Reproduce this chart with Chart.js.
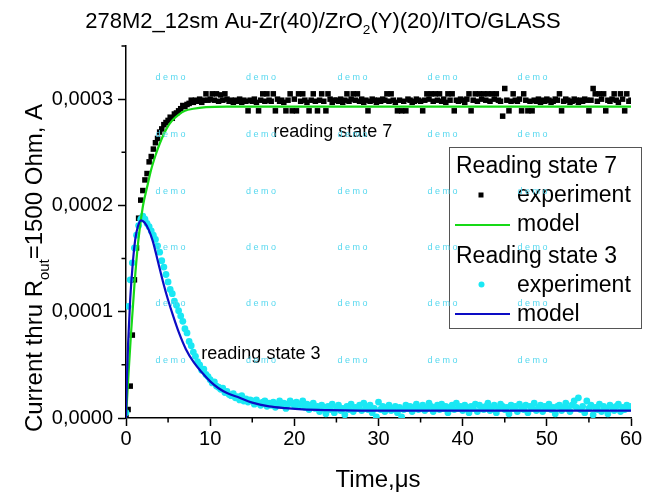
<!DOCTYPE html>
<html>
<head>
<meta charset="utf-8">
<script src="https://cdn.jsdelivr.net/npm/chart.js@4/dist/chart.umd.min.js"></script>
<style>
  html, body { margin: 0; padding: 0; background: #fff; }
  #wrap { width: 645px; height: 492px; }
</style>
</head>
<body>
<div id="wrap"><canvas id="chart" width="645" height="492"></canvas></div>
<script>
// Sampling times of the measured transients, microseconds
const timeUs = [
  0,0.25,0.5,0.75,1,1.25,1.5,1.75,2,2.25,2.5,2.75,3,3.25,3.5,3.75,4,4.25,4.5,4.75,
  5,5.25,5.5,5.75,6,6.25,6.5,6.75,7,7.25,7.5,7.75,8,8.25,8.5,8.75,9,9.25,9.5,9.75,
  10,10.25,10.5,10.75,11,11.25,11.5,11.75,12,12.25,12.5,12.75,13,13.25,13.5,13.75,14,14.25,14.5,14.75,
  15,15.25,15.5,15.75,16,16.25,16.5,16.75,17,17.25,17.5,17.75,18,18.25,18.5,18.75,19,19.25,19.5,19.75,
  20,20.25,20.5,20.75,21,21.25,21.5,21.75,22,22.25,22.5,22.75,23,23.25,23.5,23.75,24,24.25,24.5,24.75,
  25,25.25,25.5,25.75,26,26.25,26.5,26.75,27,27.25,27.5,27.75,28,28.25,28.5,28.75,29,29.25,29.5,29.75,
  30,30.25,30.5,30.75,31,31.25,31.5,31.75,32,32.25,32.5,32.75,33,33.25,33.5,33.75,34,34.25,34.5,34.75,
  35,35.25,35.5,35.75,36,36.25,36.5,36.75,37,37.25,37.5,37.75,38,38.25,38.5,38.75,39,39.25,39.5,39.75,
  40,40.25,40.5,40.75,41,41.25,41.5,41.75,42,42.25,42.5,42.75,43,43.25,43.5,43.75,44,44.25,44.5,44.75,
  45,45.25,45.5,45.75,46,46.25,46.5,46.75,47,47.25,47.5,47.75,48,48.25,48.5,48.75,49,49.25,49.5,49.75,
  50,50.25,50.5,50.75,51,51.25,51.5,51.75,52,52.25,52.5,52.75,53,53.25,53.5,53.75,54,54.25,54.5,54.75,
  55,55.25,55.5,55.75,56,56.25,56.5,56.75,57,57.25,57.5,57.75,58,58.25,58.5,58.75,59,59.25,59.5,59.75,60
];

// Reading state 7, measured current, microamperes
const state7ExperimentUA = [
  2,8,30,78,130,160,188,205,214,224,230,241,246,253,259,263,269,272,276,278,
  280,283,282,286,287,289,291,294,293,295,296,299,297,299,298,300,297,299,305,299,
  300,305,299,305,298,304,299,305,300,298,299,297,299,298,300,297,299,298,289,299,
  298,300,297,289,299,305,298,305,299,298,305,289,300,298,299,297,289,299,305,289,
  300,289,305,298,305,299,297,289,299,305,298,289,299,305,298,289,305,300,297,299,
  299,298,300,297,299,305,298,300,305,299,305,298,300,297,299,289,298,300,299,297,
  299,298,300,299,305,298,305,299,297,289,299,289,298,289,300,299,297,298,300,299,
  298,289,299,305,300,305,298,305,299,305,298,300,297,305,299,305,289,299,298,300,
  299,297,300,305,289,299,305,298,305,300,305,299,305,298,305,300,305,299,298,284,
  310,299,289,298,305,299,298,300,289,305,299,289,298,289,299,298,300,297,299,298,
  300,299,297,298,300,299,305,289,298,300,299,297,298,300,299,297,299,298,300,299,
  289,299,310,305,298,305,300,305,289,299,298,300,305,299,297,305,300,289,305,298,299
];

// Reading state 3, measured current, microamperes
const state3ExperimentUA = [
  5,105,130,146,160,172,181,187,190,187,183,180,176,172,168,162,156,148,142,135,
  128,121,117,110,106,101,96,91,84,80,72,68,62,58,53,50,45,46,41,39,
  36,33,34,30,29,27,28,24,25,22,21,23,19,20,17,21,16,18,15,17,
  16,13,17,14,12,15,16,11,14,12,15,10,13,16,12,14,9,13,16,14,
  12,15,11,13,16,10,13,8,12,14,9,11,6,12,10,4,11,8,13,5,
  10,12,7,9,3,11,8,13,6,10,9,12,7,14,10,8,12,5,9,1,
  15,8,11,6,10,12,7,9,11,5,10,1,8,12,9,11,6,10,13,8,
  10,12,7,9,14,11,6,10,12,8,13,9,11,5,10,12,8,14,9,11,
  7,12,10,5,11,9,13,6,12,10,8,11,14,7,10,12,5,9,13,11,
  8,10,4,12,9,11,6,13,10,8,12,5,11,9,14,7,10,12,6,11,
  9,13,8,10,4,11,12,7,10,14,9,6,12,16,10,19,8,11,5,16,
  9,12,3,10,8,13,6,11,9,4,12,10,7,11,13,6,10,8,12,9,11
];

// Model curves, microamperes
const state7ModelTimeUs = [0,0.3,0.6,1,1.45,2,2.5,3,3.5,4,4.8,5.5,6.2,7,8,9.5,12,20,30,40,50,60];
const state7ModelUA     = [0,42,80,125,166,199,217,234,247,258,272,280,285,289,291,292.5,293,293,293,293,293,293];

const state3ModelTimeUs = [0,0.1,0.25,0.5,0.8,1.1,1.4,1.8,2.2,2.7,3.2,3.8,4.4,5,5.6,6.3,7.1,8,9,10,11,12,13.5,15,17,19,21,24,28,35,45,60];
const state3ModelUA     = [0,35,70,112,145,168,180,186,184,177,166,147,128,111,96,80,65,53,43,34.5,28,23.5,19,14.5,11,9.3,8.1,7.4,7,6.9,6.9,6.9];

// Axis tick labels
const yTickLabels = ['0,0000', '0,0001', '0,0002', '0,0003'];
const xTickLabels = ['0', '10', '20', '30', '40', '50', '60'];

// In-plot notes: text, time (us), current (uA) at the text baseline start
const noteTexts = ['reading state 7', 'reading state 3'];
const noteTimeUs = [17.5, 8.95];
const noteCurrentUA = [264, 55.5];

const FONT = '"Liberation Sans", Arial, Helvetica, sans-serif';
const COLORS = {
  s7exp: '#000000',
  s7model: '#16d916',
  s3exp: '#1ae8f4',
  s3model: '#0c0cc4',
  mark: '#56d8ef'
};

const toAmps = uA => uA * 1e-6;
const toPoints = (xs, ys) => xs.map((x, i) => ({ x: x, y: toAmps(ys[i]) }));
const isMajorY = v => Math.abs(v / 1e-4 - Math.round(v / 1e-4)) < 1e-6;
const isMajorX = v => Math.abs(v / 10 - Math.round(v / 10)) < 1e-9;

// Text runs with optional subscripts, drawn from x (left) on baseline y
function richWidth(ctx, runs, size) {
  let w = 0;
  for (const r of runs) {
    ctx.font = `${r.sub ? size * 0.62 : size}px ${FONT}`;
    w += ctx.measureText(r.t).width;
  }
  return w;
}
function drawRich(ctx, runs, x, y, size) {
  let cx = x;
  ctx.textAlign = 'left';
  ctx.textBaseline = 'alphabetic';
  for (const r of runs) {
    const s = r.sub ? size * 0.62 : size;
    ctx.font = `${s}px ${FONT}`;
    ctx.fillText(r.t, cx, r.sub ? y + size * 0.28 : y);
    cx += ctx.measureText(r.t).width;
  }
}

const decor = {
  id: 'decor',
  beforeDraw(chart) {
    const ctx = chart.ctx;
    ctx.save();
    ctx.fillStyle = '#fff';
    ctx.fillRect(0, 0, chart.width, chart.height);
    ctx.restore();
  },
  afterDraw(chart) {
    const ctx = chart.ctx;
    const xs = chart.scales.x, ys = chart.scales.y;
    const area = chart.chartArea;
    ctx.save();
    ctx.fillStyle = '#000';

    // minor ticks
    ctx.strokeStyle = '#000';
    ctx.lineWidth = 1.5;
    ctx.beginPath();
    for (const t of xs.ticks) {
      if (isMajorX(t.value)) continue;
      const px = xs.getPixelForValue(t.value);
      ctx.moveTo(px, area.bottom);
      ctx.lineTo(px, area.bottom + 4.5);
    }
    for (const t of ys.ticks) {
      if (isMajorY(t.value)) continue;
      const py = ys.getPixelForValue(t.value);
      ctx.moveTo(area.left, py);
      ctx.lineTo(area.left - 4.5, py);
    }
    ctx.stroke();

    // chart title
    const titleRuns = [{ t: '278M2_12sm Au-Zr(40)/ZrO' }, { t: '2', sub: true }, { t: '(Y)(20)/ITO/GLASS' }];
    const tSize = 22;
    const tw = richWidth(ctx, titleRuns, tSize);
    drawRich(ctx, titleRuns, 323 - tw / 2, 28, tSize);

    // y axis title
    const yRuns = [{ t: 'Current thru R' }, { t: 'out', sub: true }, { t: '=1500 Ohm, A' }];
    const aSize = 24;
    ctx.save();
    ctx.translate(33, 268);
    ctx.rotate(-Math.PI / 2);
    const yw = richWidth(ctx, yRuns, aSize);
    drawRich(ctx, yRuns, -yw / 2, 9, aSize);
    ctx.restore();

    // x axis title
    ctx.font = `${aSize}px ${FONT}`;
    ctx.textAlign = 'center';
    ctx.textBaseline = 'alphabetic';
    ctx.fillText('Time,\u03bcs', 378, 487);

    // notes next to the curves
    ctx.font = `18px ${FONT}`;
    ctx.textAlign = 'left';
    for (let i = 0; i < noteTexts.length; i++) {
      ctx.fillText(noteTexts[i], xs.getPixelForValue(noteTimeUs[i]), ys.getPixelForValue(toAmps(noteCurrentUA[i])));
    }

    // legend
    const L = { left: 449.5, top: 147.5, w: 192, h: 181 };
    ctx.fillStyle = '#fff';
    ctx.fillRect(L.left, L.top, L.w, L.h);
    ctx.strokeStyle = '#555';
    ctx.lineWidth = 1;
    ctx.strokeRect(L.left, L.top, L.w, L.h);
    ctx.fillStyle = '#000';
    const lSize = 23;
    ctx.font = `${lSize}px ${FONT}`;
    ctx.textAlign = 'left';
    ctx.fillText('Reading state 7', 456, 173);
    ctx.fillText('experiment', 517, 202);
    ctx.fillText('model', 517, 231);
    ctx.fillText('Reading state 3', 456, 263);
    ctx.fillText('experiment', 517, 292);
    ctx.fillText('model', 517, 321);
    ctx.fillStyle = COLORS.s7exp;
    ctx.fillRect(478.5, 192.5, 5, 5);
    ctx.fillStyle = COLORS.s3exp;
    ctx.beginPath();
    ctx.arc(481.5, 284.5, 3, 0, Math.PI * 2);
    ctx.fill();
    ctx.lineWidth = 2;
    ctx.strokeStyle = COLORS.s7model;
    ctx.beginPath(); ctx.moveTo(455, 225); ctx.lineTo(510, 225); ctx.stroke();
    ctx.strokeStyle = COLORS.s3model;
    ctx.beginPath(); ctx.moveTo(455, 314); ctx.lineTo(510, 314); ctx.stroke();

    // "demo" marks
    ctx.fillStyle = COLORS.mark;
    ctx.font = `9px ${FONT}`;
    ctx.textAlign = 'center';
    ctx.textBaseline = 'middle';
    const markCols = [170.5, 261, 352.5, 442.5, 532.5];
    const markRows = [78, 135, 192, 248, 304, 361];
    for (const my of markRows) for (const mx of markCols) ctx.fillText('d e m o', mx, my);

    ctx.restore();
  }
};

new Chart(document.getElementById('chart'), {
  type: 'scatter',
  data: {
    datasets: [
      {
        label: 'Reading state 3 model',
        data: toPoints(state3ModelTimeUs, state3ModelUA),
        showLine: true, borderColor: COLORS.s3model, borderWidth: 2.2,
        pointRadius: 0, cubicInterpolationMode: 'monotone', order: 0
      },
      {
        label: 'Reading state 7 model',
        data: toPoints(state7ModelTimeUs, state7ModelUA),
        showLine: true, borderColor: COLORS.s7model, borderWidth: 2.2,
        pointRadius: 0, cubicInterpolationMode: 'monotone', order: 1
      },
      {
        label: 'Reading state 3 experiment',
        data: toPoints(timeUs, state3ExperimentUA),
        pointStyle: 'circle', pointRadius: 3.4, backgroundColor: COLORS.s3exp,
        borderWidth: 0, order: 2
      },
      {
        label: 'Reading state 7 experiment',
        data: toPoints(timeUs, state7ExperimentUA),
        pointStyle: 'rect', pointRadius: 3.9, backgroundColor: COLORS.s7exp,
        borderWidth: 0, order: 3
      }
    ]
  },
  options: {
    responsive: false,
    animation: false,
    devicePixelRatio: 1,
    layout: { padding: { top: 46, right: 14, bottom: 0, left: 0 } },
    plugins: { legend: { display: false }, tooltip: { enabled: false }, title: { display: false } },
    scales: {
      x: {
        type: 'linear', min: 0, max: 60,
        afterFit(s) { s.height = 74; },
        border: { display: true, color: '#000', width: 1.5 },
        grid: {
          drawOnChartArea: false, drawTicks: true, tickLength: 8, tickWidth: 1.5,
          tickColor: c => (c.tick && isMajorX(c.tick.value)) ? '#000' : 'rgba(0,0,0,0)'
        },
        ticks: {
          stepSize: 5, autoSkip: false, maxRotation: 0, padding: 1, color: '#000',
          font: { family: FONT, size: 20 },
          callback: v => isMajorX(v) ? xTickLabels[Math.round(v / 10)] : ''
        }
      },
      y: {
        type: 'linear', min: 0, max: 0.00035,
        afterFit(s) { s.width = 126; },
        border: { display: true, color: '#000', width: 1.5 },
        grid: {
          drawOnChartArea: false, drawTicks: true, tickLength: 8, tickWidth: 1.5,
          tickColor: c => (c.tick && isMajorY(c.tick.value)) ? '#000' : 'rgba(0,0,0,0)'
        },
        ticks: {
          stepSize: 0.00005, autoSkip: false, padding: 5, color: '#000',
          font: { family: FONT, size: 20 },
          callback: v => isMajorY(v) ? yTickLabels[Math.round(v / 1e-4)] : ''
        }
      }
    }
  },
  plugins: [decor]
});
</script>
</body>
</html>
